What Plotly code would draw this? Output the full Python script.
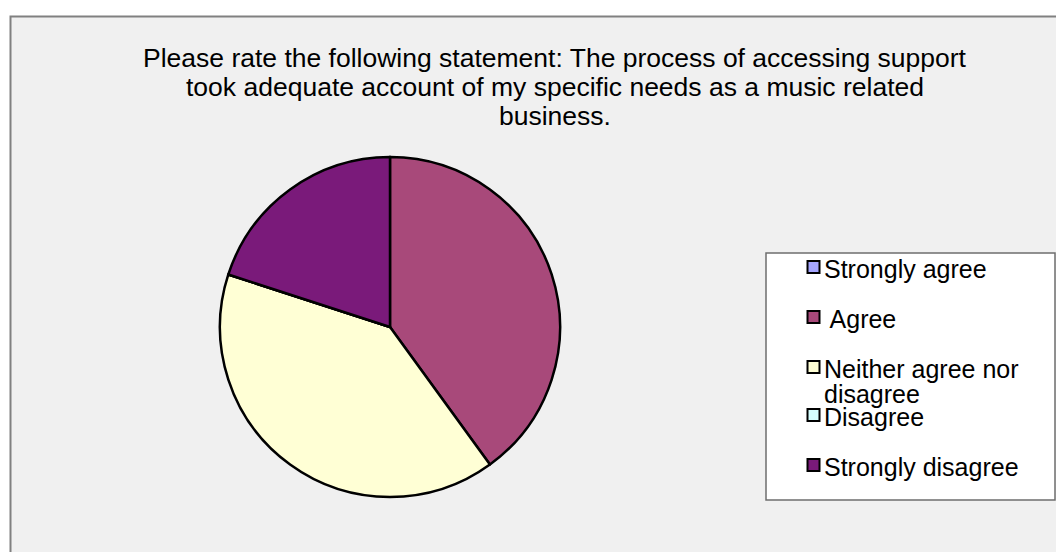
import plotly.graph_objects as go

W, H = 1064, 552
OFF = 8  # page body margin


def px(x):
    return (x - OFF) / W


def py(y):
    return 1 - (y - OFF) / H


labels = ["Strongly agree", "Agree", "Neither agree nor disagree", "Disagree", "Strongly disagree"]
legend_lines = [["Strongly agree"], [" Agree"], ["Neither agree nor", "disagree"], ["Disagree"], ["Strongly disagree"]]
values = [0, 2, 2, 0, 1]
colors = ["#A5A5FF", "#A8497A", "#FFFFD5", "#D5FFFF", "#7A1A7A"]

title_lines = [
    "Please rate the following statement: The process of accessing support",
    "took adequate account of my specific needs as a music related",
    "business.",
]

FONT = "Liberation Sans, Arial, sans-serif"

fig = go.Figure()
fig.add_trace(go.Pie(
    labels=labels, values=values, sort=False, direction="clockwise", rotation=0,
    marker=dict(colors=colors, line=dict(color="black", width=2.5)),
    textinfo="none", hoverinfo="label+percent", showlegend=False,
    domain=dict(x=[px(220), px(560)], y=[py(497), py(157)]),
))

shapes = [
    dict(type="rect", xref="paper", yref="paper",
         x0=px(10.5), x1=1.05, y0=-0.05, y1=py(16.5),
         fillcolor="#F0F0F0", line=dict(color="#808080", width=2), layer="below"),
    dict(type="rect", xref="paper", yref="paper",
         x0=px(766), x1=px(1055), y0=py(500), y1=py(253),
         fillcolor="white", line=dict(color="#6E6E6E", width=1.5), layer="below"),
]
annotations = []

title_centers = [56, 85, 114]
for line, yc in zip(title_lines, title_centers):
    annotations.append(dict(text=line, xref="paper", yref="paper", x=px(555), y=py(yc + 2),
                            xanchor="center", yanchor="middle", showarrow=False,
                            font=dict(family=FONT, size=26.5, color="black")))

item_centers = [267, 317, 367, 415, 465]
for lines, col, yc in zip(legend_lines, colors, item_centers):
    shapes.append(dict(type="rect", xref="paper", yref="paper",
                       x0=px(807.5), x1=px(819.5), y0=py(yc + 6), y1=py(yc - 6),
                       fillcolor=col, line=dict(color="black", width=2)))
    for k, line in enumerate(lines):
        annotations.append(dict(text=line, xref="paper", yref="paper", x=px(822),
                                y=py(yc + 2 + 25 * k), xanchor="left", yanchor="middle",
                                showarrow=False,
                                font=dict(family=FONT, size=25, color="black")))

fig.update_layout(
    width=W, height=H, margin=dict(l=0, r=0, t=0, b=0),
    paper_bgcolor="white", plot_bgcolor="white",
    shapes=shapes, annotations=annotations, showlegend=False,
)
fig.write_html("out.html")
